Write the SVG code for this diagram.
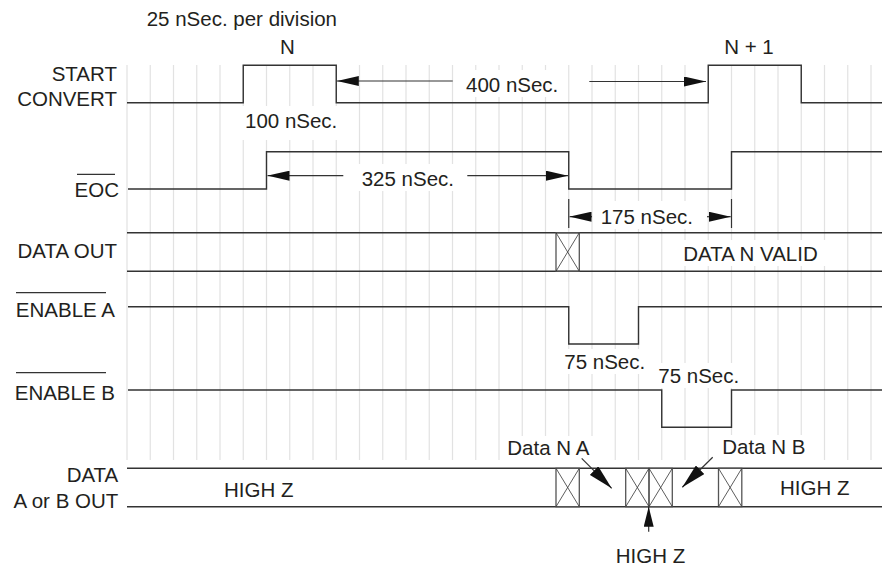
<svg xmlns="http://www.w3.org/2000/svg" width="882" height="565" viewBox="0 0 882 565">
<defs>
<marker id="ah" viewBox="0 0 22 10" markerWidth="22" markerHeight="10" refX="22" refY="5" orient="auto" markerUnits="userSpaceOnUse"><path d="M0,0 L22,5 L0,10 Z" fill="#111"/></marker>
<marker id="ah2" viewBox="0 0 25 12" markerWidth="25" markerHeight="12" refX="25" refY="6" orient="auto" markerUnits="userSpaceOnUse"><path d="M0,0 L25,6 L0,12 Z" fill="#111"/></marker>
<marker id="ah3" viewBox="0 0 20 10" markerWidth="20" markerHeight="10" refX="20" refY="5" orient="auto" markerUnits="userSpaceOnUse"><path d="M0,0 L20,5 L0,10 Z" fill="#111"/></marker>
</defs>
<style>
text{font-family:"Liberation Sans",Arial,sans-serif;font-size:20.5px;fill:#231f20}
.e{text-anchor:end}
.m{text-anchor:middle}
.g{stroke:#e2e2e2;stroke-width:1.2}
.bg{fill:#fff}
.s{fill:none;stroke:#333;stroke-width:1.4}
.bx{fill:none;stroke:#555;stroke-width:1.3}
.x{stroke:#333;stroke-width:0.8}
.a{stroke:#333;stroke-width:1.2;fill:none}
.ol{stroke:#333;stroke-width:1.2}
</style>
<rect width="882" height="565" fill="#fff"/>
<g id="grid">
<path class="g" d="M127,65V460M150.25,65V460M173.5,65V460M196.75,65V460M220,65V460M243.25,65V460M266.5,65V460M289.75,65V460M313,65V460M336.25,65V460M359.5,65V460M382.75,65V460M406,65V460M429.25,65V460M452.5,65V460M475.75,65V460M499,65V460M522.25,65V460M545.5,65V460M568.75,65V460M592,65V460M615.25,65V460M638.5,65V460M661.75,65V460M685,65V460M708.25,65V460M731.5,65V460M754.75,65V460M778,65V460M801.25,65V460M824.5,65V460M847.75,65V460M871,65V460"/>
</g>
<g id="text-backgrounds">
<rect class="bg" x="241" y="106" width="100" height="34"/>
<rect class="bg" x="460" y="70" width="106" height="27"/>
<rect class="bg" x="356" y="164" width="102" height="27"/>
<rect class="bg" x="596" y="201" width="102" height="28"/>
<rect class="bg" x="678" y="240" width="150" height="26"/>
<rect class="bg" x="560" y="349" width="89" height="25"/>
<rect class="bg" x="654" y="363" width="89" height="25"/>
<rect class="bg" x="503" y="436" width="92" height="24"/>
<rect class="bg" x="718" y="435" width="92" height="25"/>
</g>
<text x="146.7" y="26">25 nSec. per division</text>
<text class="m" x="287.5" y="54">N</text>
<text class="m" x="749" y="54">N + 1</text>
<g id="start-convert">
<text class="e" x="117" y="80.5">START</text>
<text class="e" x="117" y="106">CONVERT</text>
<path class="s" d="M127,102.7H243.25V65.3H336.25V102.7H708.25V65.3H801.25V102.7H882"/>
<text x="245" y="128">100 nSec.</text>
<text x="466" y="92">400 nSec.</text>
</g>
<g id="eoc">
<text class="e" x="119" y="197">EOC</text>
<line class="ol" x1="77" y1="174.3" x2="115" y2="174.3"/>
<path class="s" d="M128,189H266.5V151.7H568.75V189H731.5V151.7H882"/>
<text x="361.7" y="185.5">325 nSec.</text>
<text x="600.7" y="223.5">175 nSec.</text>
</g>
<g id="data-out">
<text class="e" x="117" y="257.5">DATA OUT</text>
<path class="s" d="M127,232.7H882M127,271.3H882"/>
<rect class="bx" x="556" y="232.7" width="23.3" height="38.6"/>
<path class="x" d="M556,232.7L579.3,271.3M579.3,232.7L556,271.3"/>
<text x="683.3" y="261">DATA N VALID</text>
</g>
<g id="enable-a">
<line class="ol" x1="16" y1="292.7" x2="106" y2="292.7"/>
<text class="e" x="115" y="316.7">ENABLE A</text>
<path class="s" d="M128,306.7H568.75V344H638.5V306.7H882"/>
<text x="564.3" y="368.5">75 nSec.</text>
</g>
<g id="enable-b">
<line class="ol" x1="16" y1="372.7" x2="106" y2="372.7"/>
<text class="e" x="115" y="400">ENABLE B</text>
<path class="s" d="M128,390H661.75V427.3H731.5V390H882"/>
<text x="658.3" y="383">75 nSec.</text>
</g>
<g id="data-ab-out">
<text class="e" x="118.3" y="481.7">DATA</text>
<text class="e" x="118.3" y="507.7">A or B OUT</text>
<path class="s" d="M127,468.3H882M127,506.7H882"/>
<rect class="bx" x="556" y="468.3" width="23.3" height="38.4"/>
<rect class="bx" x="625.7" y="468.3" width="23.3" height="38.4"/>
<rect class="bx" x="649" y="468.3" width="23.3" height="38.4"/>
<rect class="bx" x="718.5" y="468.3" width="23.3" height="38.4"/>
<path class="x" d="M556,468.3L579.3,506.7M579.3,468.3L556,506.7M625.7,468.3L649,506.7M649,468.3L625.7,506.7M649,468.3L672.3,506.7M672.3,468.3L649,506.7M718.5,468.3L741.8,506.7M741.8,468.3L718.5,506.7"/>
<text x="224" y="496.7">HIGH Z</text>
<text x="780" y="495">HIGH Z</text>
<text x="507.3" y="455">Data N A</text>
<text x="722.3" y="453.5">Data N B</text>
<text x="615.7" y="562.7">HIGH Z</text>
</g>
<g id="connectors">
<line class="a" x1="452.7" y1="81" x2="336.8" y2="81" marker-end="url(#ah)"/>
<line class="a" x1="589.3" y1="81.5" x2="706" y2="81.5" marker-end="url(#ah)"/>
<line class="a" x1="343.3" y1="175.7" x2="267.5" y2="175.7" marker-end="url(#ah)"/>
<line class="a" x1="467.3" y1="175.7" x2="568" y2="175.7" marker-end="url(#ah)"/>
<path class="a" d="M568.75,199V228M731.5,199V228"/>
<line class="a" x1="592" y1="216.7" x2="569.5" y2="216.7" marker-end="url(#ah)"/>
<line class="a" x1="707" y1="216.7" x2="730.7" y2="216.7" marker-end="url(#ah)"/>
<line class="a" x1="581.7" y1="458.3" x2="611.7" y2="488.3" marker-end="url(#ah2)"/>
<line class="a" x1="712.7" y1="457.3" x2="682.3" y2="487.3" marker-end="url(#ah2)"/>
<line class="a" x1="648.7" y1="531.7" x2="648.7" y2="506.7" marker-end="url(#ah3)"/>
</g>
</svg>
